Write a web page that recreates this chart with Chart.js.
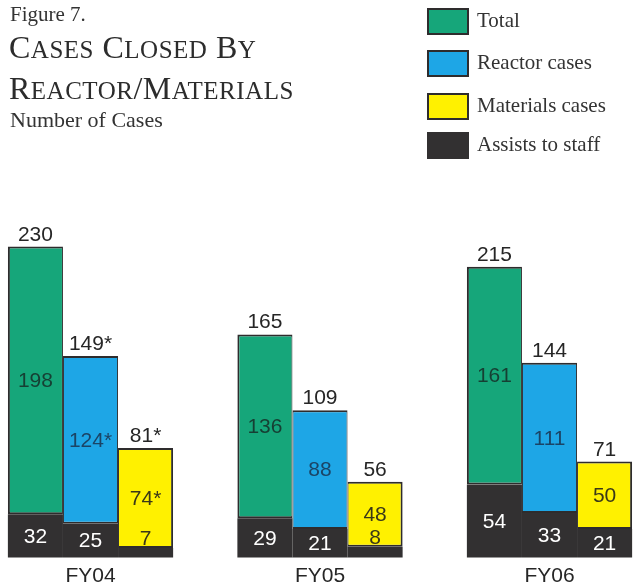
<!DOCTYPE html>
<html>
<head>
<meta charset="utf-8">
<script src="https://cdn.jsdelivr.net/npm/chart.js@4"></script>
<style>
  body { margin: 0; background: #fff; }
  #wrap { position: relative; width: 633px; height: 588px; overflow: hidden; }
  #chart { position: absolute; left: 0; top: 0; }
  .head { position: absolute; font-family: 'Liberation Serif', 'Times New Roman', serif; color: #333; white-space: nowrap; }
  #fig { left: 10px; top: 2px; font-size: 21px; }
  #title { left: 9px; top: 28px; font-size: 32px; line-height: 39px; color: #2c2c2c; letter-spacing: 0.5px; }
  #title small { font-size: 25px; }
  #sub { left: 10px; top: 107px; font-size: 22px; }
  .leg { position: absolute; left: 427px; font-family: 'Liberation Serif', 'Times New Roman', serif; font-size: 21px; color: #333; white-space: nowrap; }
  .leg span.sw { position: absolute; left: 0; top: 0; width: 38px; height: 23px; border: 2px solid #2e2c2d; }
  .leg span.tx { position: absolute; left: 50px; top: 0px; }
</style>
</head>
<body>
<div id="wrap">
  <canvas id="chart" width="633" height="588"></canvas>
  <div class="head" id="fig">Figure 7.</div>
  <div class="head" id="title">C<small>ASES</small> C<small>LOSED</small> B<small>Y</small><br>R<small>EACTOR</small>/M<small>ATERIALS</small></div>
  <div class="head" id="sub">Number of Cases</div>
  <div id="legend"></div>
</div>
<script>
// Fiscal years
const years = ['FY04', 'FY05', 'FY06'];

// Cases other than assists (coloured part of each bar)
const totalCases = [198, 136, 161];
const reactorCases = [124, 88, 111];
const materialsCases = [74, 48, 50];

// Assists to staff (dark bottom part of each bar)
const totalAssists = [32, 29, 54];
const reactorAssists = [25, 21, 33];
const materialsAssists = [7, 8, 21];

// FY04 reactor / materials figures carry an asterisk
const starred = [false, true, true];

const legendNames = ['Total', 'Reactor cases', 'Materials cases', 'Assists to staff'];
const colors = ['#16a67a', '#1ea6e6', '#fff100', '#323031'];
const innerText = ['#163f33', '#1b4466', '#3a3818'];
const dark = '#2e2c2d';

// Legend (HTML)
const legendTops = [8, 50, 93, 132];
const legendEl = document.getElementById('legend');
legendNames.forEach((name, i) => {
    const d = document.createElement('div');
    d.className = 'leg';
    d.style.top = legendTops[i] + 'px';
    d.innerHTML = `<span class="sw" style="background:${colors[i]};${i === 3 ? 'border-color:' + colors[3] : ''}"></span><span class="tx">${name}</span>`;
    legendEl.appendChild(d);
});

const groups = [
    { key: 'total', cases: totalCases, assists: totalAssists, left: 2, right: 1 },
    { key: 'reactor', cases: reactorCases, assists: reactorAssists, left: 1, right: 1 },
    { key: 'materials', cases: materialsCases, assists: materialsAssists, left: 1, right: 2 }
];

const datasets = [];
groups.forEach((g, k) => {
    datasets.push({
        label: legendNames[3],
        data: g.assists,
        stack: g.key,
        backgroundColor: colors[3],
        borderWidth: 0,
        clip: false
    });
    datasets.push({
        label: legendNames[k],
        data: g.cases,
        stack: g.key,
        backgroundColor: colors[k],
        borderColor: dark,
        borderWidth: { top: 2, left: g.left, right: g.right, bottom: 2 },
        borderSkipped: false,
        clip: false
    });
});

const labelFont = "21px 'Liberation Sans', Arial, Helvetica, sans-serif";

const valueLabels = {
    id: 'valueLabels',
    afterDatasetsDraw(chart) {
        const ctx = chart.ctx;
        ctx.save();
        ctx.font = labelFont;
        ctx.textAlign = 'center';
        groups.forEach((g, k) => {
            const aMeta = chart.getDatasetMeta(k * 2);
            const cMeta = chart.getDatasetMeta(k * 2 + 1);
            years.forEach((y, i) => {
                const star = (i === 0 && starred[k]) ? '*' : '';
                const a = aMeta.data[i];
                const c = cMeta.data[i];
                const x = c.x;
                // total above the bar
                ctx.fillStyle = '#262626';
                ctx.textBaseline = 'alphabetic';
                ctx.fillText(String(g.cases[i] + g.assists[i]) + star, x, c.y - 6);
                // coloured segment value
                ctx.fillStyle = innerText[k];
                ctx.textBaseline = 'middle';
                ctx.fillText(String(g.cases[i]) + star, x, (c.y + c.base) / 2 + 1);
                // assists value
                const h = a.base - a.y;
                if (h >= 20) {
                    ctx.fillStyle = '#ffffff';
                    ctx.fillText(String(g.assists[i]), x, (a.y + a.base) / 2 + 1);
                } else {
                    ctx.fillStyle = innerText[k];
                    ctx.textBaseline = 'alphabetic';
                    ctx.fillText(String(g.assists[i]), x, a.y - 3);
                }
            });
        });
        ctx.restore();
    }
};

new Chart(document.getElementById('chart'), {
    type: 'bar',
    data: { labels: years, datasets: datasets },
    options: {
        responsive: false,
        animation: false,
        categoryPercentage: 0.72,
        barPercentage: 1,
        layout: { padding: { left: 90.5, right: 83.5, top: 219.5, bottom: 0 } },
        plugins: { legend: { display: false }, tooltip: { enabled: false } },
        scales: {
            x: {
                stacked: true,
                offset: false,
                grid: { display: false, drawTicks: false },
                border: { display: false },
                afterFit(scale) { scale.height = 30.5; },
                ticks: {
                    padding: 6,
                    color: '#262626',
                    font: { family: "'Liberation Sans', Arial, Helvetica, sans-serif", size: 21 }
                }
            },
            y: {
                stacked: true,
                display: false,
                min: 0,
                max: 250
            }
        }
    },
    plugins: [valueLabels]
});
</script>
</body>
</html>
